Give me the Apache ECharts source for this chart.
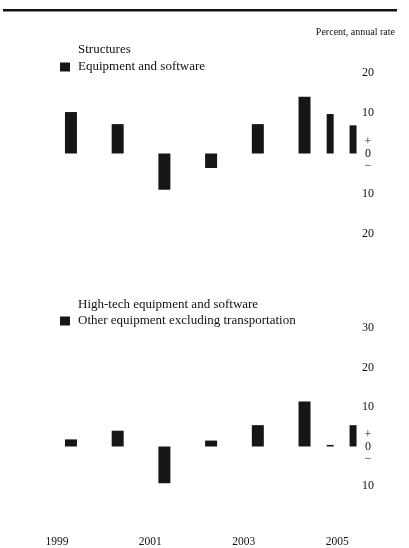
<!DOCTYPE html>
<html>
<head>
<meta charset="utf-8">
<script src="https://cdn.jsdelivr.net/npm/echarts@6/dist/echarts.min.js"></script>
<style>
  html, body { margin: 0; padding: 0; background: #fff; }
  #chart { width: 409px; height: 548px; }
</style>
</head>
<body>
<div id="chart"></div>
<script>
// 年度位置（年中）与 2005 年两个分段
const periods = [1999.5, 2000.5, 2001.5, 2002.5, 2003.5, 2004.5];
const periods2005 = [2005.19, 2005.68];

// 上图：设备与软件
const equipAnnual = [10.3, 7.3, -9.0, -3.6, 7.3, 14.1];
const equip2005 = [9.8, 7.0];
// 上图：建筑（扫描中看不到）
const structuresAnnual = [];

// 下图：其他设备（不含运输）
const otherAnnual = [1.8, 4.0, -9.3, 1.5, 5.4, 11.4];
const other2005 = [0.4, 5.4];
// 下图：高科技设备（扫描中看不到）
const hightechAnnual = [];

const yearLabels = [1999, 2001, 2003, 2005];
const yearLabelShift = 0.34;

const FONT = 'Liberation Serif';
const BAR = '#161616';

document.addEventListener('DOMContentLoaded', function() {
    const chart = echarts.init(document.getElementById('chart'));

    const pairs = (xs, ys) => ys.map((v, i) => [xs[i], v]);

    const yLabel = {
        color: '#111',
        fontFamily: FONT,
        fontSize: 12,
        align: 'center',
        margin: 0,
        lineHeight: 12,
        formatter: v => v === 0 ? '+\n0\n\u2212' : String(Math.abs(v))
    };

    const xBase = {
        type: 'value',
        min: 1999,
        max: 2006,
        axisLine: { show: false },
        axisTick: { show: false },
        splitLine: { show: false },
        axisLabel: { show: false }
    };

    const legendText = { fontFamily: FONT, fontSize: 13, color: '#111', lineHeight: 14, padding: [0, 0, 0, 3] };

    const option = {
        animation: false,
        backgroundColor: '#fff',
        textStyle: { fontFamily: FONT },
        graphic: [
            { type: 'rect', shape: { x: 3, y: 9, width: 394, height: 2.5 }, style: { fill: '#111' } },
            { type: 'text', right: 14, top: 27, style: { text: 'Percent, annual rate', font: '10px "Liberation Serif"', fill: '#111' } }
        ],
        legend: [
            {
                orient: 'vertical', left: 55, top: 38, itemWidth: 10, itemHeight: 9, itemGap: 3,
                selectedMode: false,
                textStyle: legendText,
                data: [{ name: 'Structures', icon: 'none' }, { name: 'Equipment and software', icon: 'rect' }]
            },
            {
                orient: 'vertical', left: 55, top: 293, itemWidth: 10, itemHeight: 9, itemGap: 2,
                selectedMode: false,
                textStyle: legendText,
                data: [{ name: 'High-tech equipment and software', icon: 'none' }, { name: 'Other equipment excluding transportation', icon: 'rect' }]
            }
        ],
        grid: [
            { left: 41, width: 327, top: 73, height: 161 },
            { left: 41, width: 327, top: 328, height: 160 }
        ],
        xAxis: [
            Object.assign({}, xBase, { gridIndex: 0 }),
            Object.assign({}, xBase, { gridIndex: 0 }),
            Object.assign({}, xBase, {
                gridIndex: 1,
                axisLabel: {
                    show: true,
                    customValues: yearLabels.map(y => y + yearLabelShift),
                    formatter: v => String(Math.floor(v)),
                    color: '#111',
                    fontFamily: FONT,
                    fontSize: 11.5,
                    margin: 50
                }
            }),
            Object.assign({}, xBase, { gridIndex: 1 })
        ],
        yAxis: [
            {
                gridIndex: 0, type: 'value', position: 'right', min: -20, max: 20, interval: 10,
                axisLine: { show: false }, axisTick: { show: false }, splitLine: { show: false },
                axisLabel: yLabel
            },
            {
                gridIndex: 1, type: 'value', position: 'right', min: -10, max: 30, interval: 10,
                axisLine: { show: false }, axisTick: { show: false }, splitLine: { show: false },
                axisLabel: yLabel
            }
        ],
        series: [
            { name: 'Structures', type: 'bar', xAxisIndex: 0, yAxisIndex: 0, barWidth: 12,
              itemStyle: { color: 'rgba(0,0,0,0)' }, data: pairs(periods, structuresAnnual) },
            { name: 'Equipment and software', type: 'bar', xAxisIndex: 0, yAxisIndex: 0, barWidth: 12,
              itemStyle: { color: BAR }, data: pairs(periods, equipAnnual) },
            { name: 'Equipment and software', type: 'bar', xAxisIndex: 1, yAxisIndex: 0, barWidth: 7,
              itemStyle: { color: BAR }, data: pairs(periods2005, equip2005) },
            { name: 'High-tech equipment and software', type: 'bar', xAxisIndex: 2, yAxisIndex: 1, barWidth: 12,
              itemStyle: { color: 'rgba(0,0,0,0)' }, data: pairs(periods, hightechAnnual) },
            { name: 'Other equipment excluding transportation', type: 'bar', xAxisIndex: 2, yAxisIndex: 1, barWidth: 12,
              itemStyle: { color: BAR }, data: pairs(periods, otherAnnual) },
            { name: 'Other equipment excluding transportation', type: 'bar', xAxisIndex: 3, yAxisIndex: 1, barWidth: 7,
              itemStyle: { color: BAR }, data: pairs(periods2005, other2005) }
        ]
    };
    chart.setOption(option);
});
</script>
</body>
</html>
